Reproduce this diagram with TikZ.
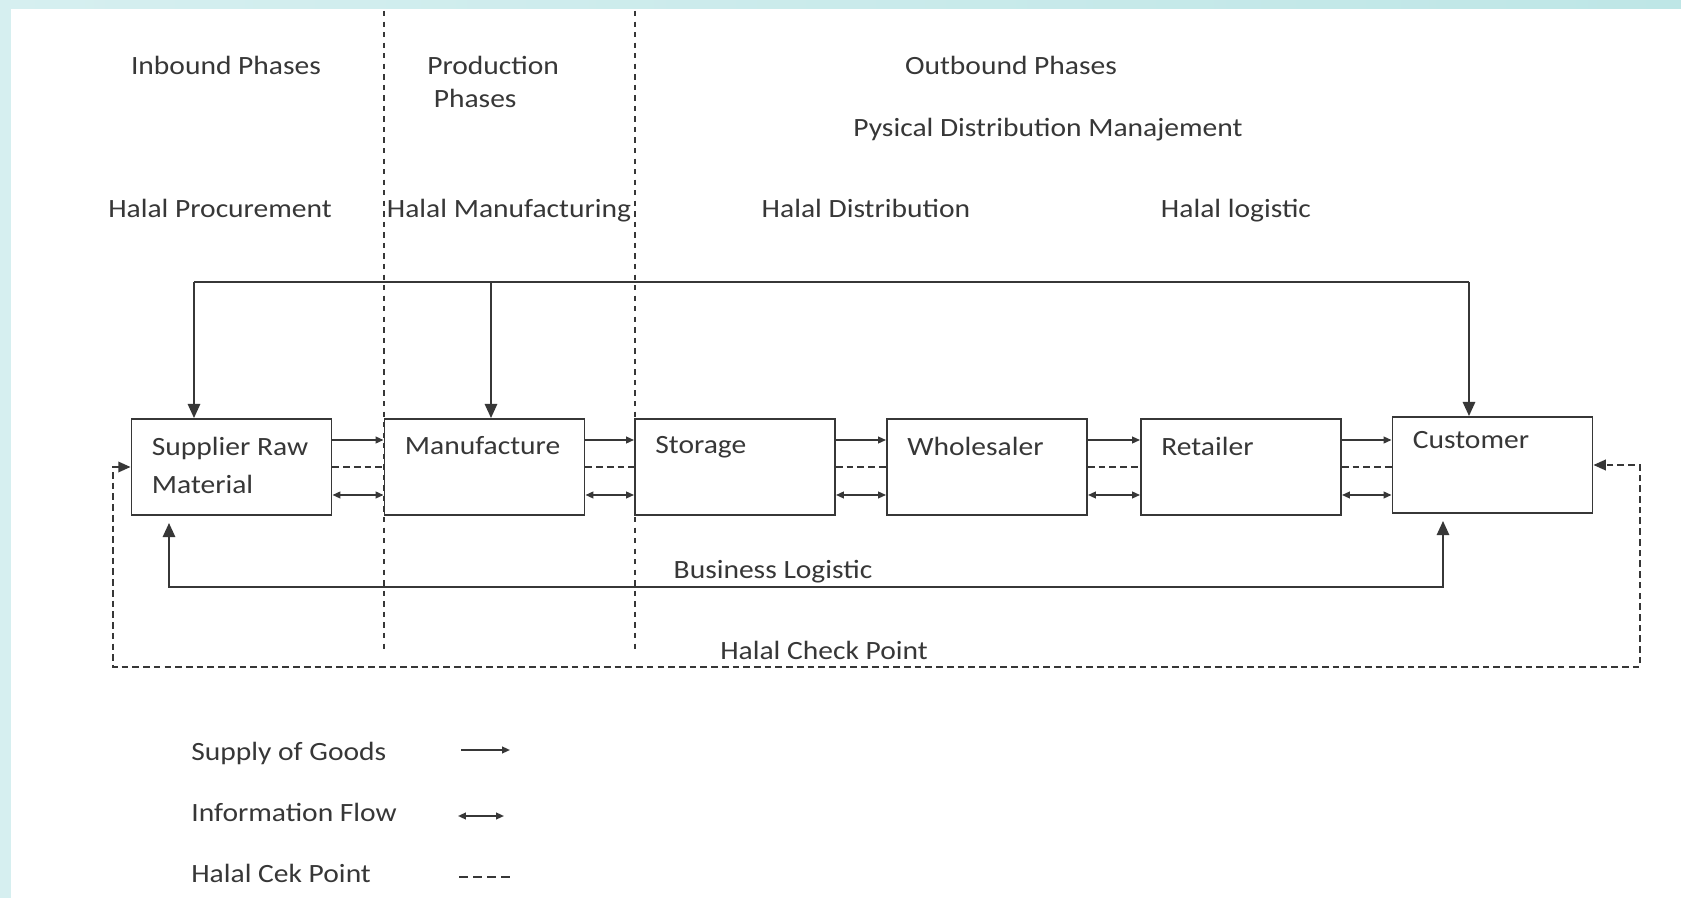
\documentclass[tikz,border=0pt]{standalone}
\usepackage{fontspec}
\setmainfont{Carlito}[FakeStretch=1.12]
\usepackage{tikz}
\usetikzlibrary{arrows.meta}
\definecolor{inkgray}{RGB}{55,55,55}
\definecolor{framecyan}{RGB}{214,239,240}
\definecolor{topcyan}{RGB}{190,230,230}

\begin{document}
\begin{tikzpicture}[x=0.02cm,y=-0.02cm]
\tikzstyle{every node}+=[inner sep=0pt, text=inkgray, font=\fontsize{15}{19}\selectfont]
\tikzstyle{stagebox}=[draw=inkgray, line width=1.1pt, minimum width=4cm, minimum height=1.92cm]
\tikzstyle{boxtext}=[anchor=north west, align=left, xshift=0.42cm, yshift=-0.37cm, font=\fontsize{15}{21.6}\selectfont]
\tikzstyle{goods}=[draw=inkgray, line width=1pt, -{Triangle[length=4.5pt,width=3.8pt]}]
\tikzstyle{info}=[draw=inkgray, line width=1pt, {Triangle[length=4.5pt,width=3.8pt]}-{Triangle[length=4.5pt,width=3.8pt]}]
\tikzstyle{check}=[draw=inkgray, line width=1pt, dash pattern=on 3.8pt off 2.3pt]
\tikzstyle{legcheck}=[draw=inkgray, line width=1pt, dash pattern=on 5pt off 3pt]
\tikzstyle{loop}=[draw=inkgray, line width=1.1pt]
\tikzstyle{bigtip}=[-{Triangle[length=8pt,width=7pt]}]
\tikzstyle{phase}=[draw=inkgray, line width=0.9pt, dash pattern=on 3pt off 3pt]

\useasboundingbox (0,0) rectangle (1681,898);
\fill [left color=framecyan, right color=topcyan] (0,0) rectangle (1681,898);
\fill [white] (11,9) rectangle (1681,898);

\draw [phase] (384,11) -- (384,649);
\draw [phase] (635,11) -- (635,649);

\node (inbound) [anchor=base] at (226,75) {Inbound Phases};
\node (production) [anchor=west, align=left] at (427,82) {Production\\ \hspace*{0.13cm}Phases};
\node (outbound) [anchor=base] at (1011,75) {Outbound Phases};
\node (pdm) [anchor=base] at (1048,137) {Pysical Distribution Manajement};
\node (procure) [anchor=base] at (220,218) {Halal Procurement};
\node (manufact) [anchor=base] at (509,218) {Halal Manufacturing};
\node (distrib) [anchor=base] at (866,218) {Halal Distribution};
\node (logist) [anchor=base] at (1236,218) {Halal logistic};

\node (sup) [stagebox, label={[boxtext]north west:Supplier Raw\\Material}] at (231.5,467) {};
\node (man) [stagebox, label={[boxtext]north west:Manufacture}] at (484.5,467) {};
\node (sto) [stagebox, label={[boxtext]north west:Storage}] at (735,467) {};
\node (who) [stagebox, label={[boxtext]north west:Wholesaler}] at (987,467) {};
\node (ret) [stagebox, label={[boxtext]north west:Retailer}] at (1241,467) {};
\node (cus) [stagebox, label={[boxtext,yshift=0.06cm]north west:Customer}] at (1492.5,465) {};

\foreach \a/\b in {sup/man,man/sto,sto/who,who/ret,ret/cus}
{
\draw [goods] ([yshift=0.54cm]\a.east) -- ([yshift=0.54cm]\a.east -| \b.west);
\draw [check] (\a.east) -- (\a.east -| \b.west);
\draw [info] ([yshift=-0.56cm]\a.east) -- ([yshift=-0.56cm]\a.east -| \b.west);
}

\coordinate (topL) at (194,282);
\coordinate (topM) at (491,282);
\coordinate (topR) at (1469,282);
\draw [loop, bigtip] (topL) -- (topL |- sup.north);
\draw [loop] (topL) -- (topR);
\draw [loop, bigtip] (topM) -- (topM |- man.north);
\draw [loop, bigtip] (topR) -- (topR |- cus.north);

\coordinate (botL) at (169,587);
\coordinate (botR) at (1443,587);
\draw [loop, {Triangle[length=8pt,width=7pt]}-{Triangle[length=8pt,width=7pt]}, shorten <=4pt, shorten >=4pt] (botL |- sup.south) -- (botL) -- (botR) -- (botR |- cus.south);
\node (business) [anchor=base] at (773,579) {Business Logistic};

\draw [check, {Triangle[length=7pt,width=6pt]}-{Triangle[length=7pt,width=6pt]}] (sup.west) -- (113,467) -- (113,667) -- (1640,667) -- (1640,465) -- (cus.east);
\node (checkpt) [anchor=base] at (824,659) {Halal Check Point};

\node (lgoods) [anchor=base west] at (191,760) {Supply of Goods};
\node (linfo) [anchor=base west] at (191,821) {Information Flow};
\node (lcheck) [anchor=base west] at (191,882) {Halal Cek Point};
\coordinate (g1) at (461,750);
\coordinate (g2) at (510,750);
\coordinate (i1) at (458,816);
\coordinate (i2) at (504,816);
\coordinate (c1) at (459,877);
\coordinate (c2) at (510,877);
\draw [goods] (g1) -- (g2);
\draw [info] (i1) -- (i2);
\draw [legcheck] (c1) -- (c2);
\end{tikzpicture}
\end{document}
